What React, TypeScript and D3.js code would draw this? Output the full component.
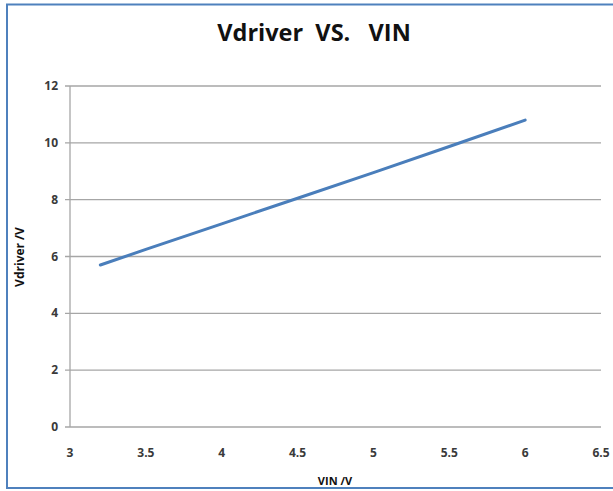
import React from 'react';
import * as d3 from 'd3';

// values
const vin = [3.2, 3.5, 4, 4.5, 5, 5.5, 6];
const vdriver = [5.7, 6.25, 7.15, 8.05, 8.95, 9.87, 10.8];
const xTicks = [3, 3.5, 4, 4.5, 5, 5.5, 6, 6.5];
const yTicks = [0, 2, 4, 6, 8, 10, 12];

const W = 613;
const H = 491;
const font = "'Open Sans', 'Liberation Sans', sans-serif";

const App = () => {
    const x = d3.scaleLinear().domain([3, 6.5]).range([70, 601]);
    const y = d3.scaleLinear().domain([0, 12]).range([427, 86]);

    const line = d3.line<number>()
        .x((d, i) => x(vin[i]))
        .y(d => y(d));

    return (
        <svg width={W} height={H} style={{ position: 'absolute', left: 0, top: 0, background: '#fff' }}>
            {/* chart frame */}
            <rect x={7} y={4.5} width={W + 20} height={483.5} fill="none" stroke="#4f81bd" strokeWidth={2} />

            <text x={314} y={41} textAnchor="middle" fontFamily={font} fontWeight="bold" fontSize={23.5} fill="#111"
                style={{ whiteSpace: 'pre' }}>
                {'Vdriver  VS.   VIN'}
            </text>

            {/* gridlines + y ticks */}
            {yTicks.map(t => (
                <g key={t}>
                    <line x1={65} x2={x(6.5)} y1={y(t)} y2={y(t)} stroke="#a6a6a6" strokeWidth={1.3} />
                    <text x={58} y={y(t) + 4} textAnchor="end" fontFamily={font} fontWeight="bold" fontSize={12} fill="#3a3a3a">
                        {t}
                    </text>
                </g>
            ))}
            <line x1={x(3)} x2={x(3)} y1={y(12)} y2={y(0)} stroke="#a6a6a6" strokeWidth={1.3} />

            {xTicks.map(t => (
                <text key={t} x={x(t)} y={457} textAnchor="middle" fontFamily={font} fontWeight="bold" fontSize={12} fill="#3a3a3a">
                    {t}
                </text>
            ))}

            <path d={line(vdriver) || ''} fill="none" stroke="#4a7ebb" strokeWidth={3} strokeLinecap="round" />

            <text x={335} y={485} textAnchor="middle" fontFamily={font} fontWeight="bold" fontSize={11} fill="#111">
                VIN /V
            </text>
            <text transform={`translate(24, ${257}) rotate(-90)`} textAnchor="middle" fontFamily={font} fontWeight="bold" fontSize={12} fill="#111">
                Vdriver /V
            </text>
        </svg>
    );
};

export default App;
